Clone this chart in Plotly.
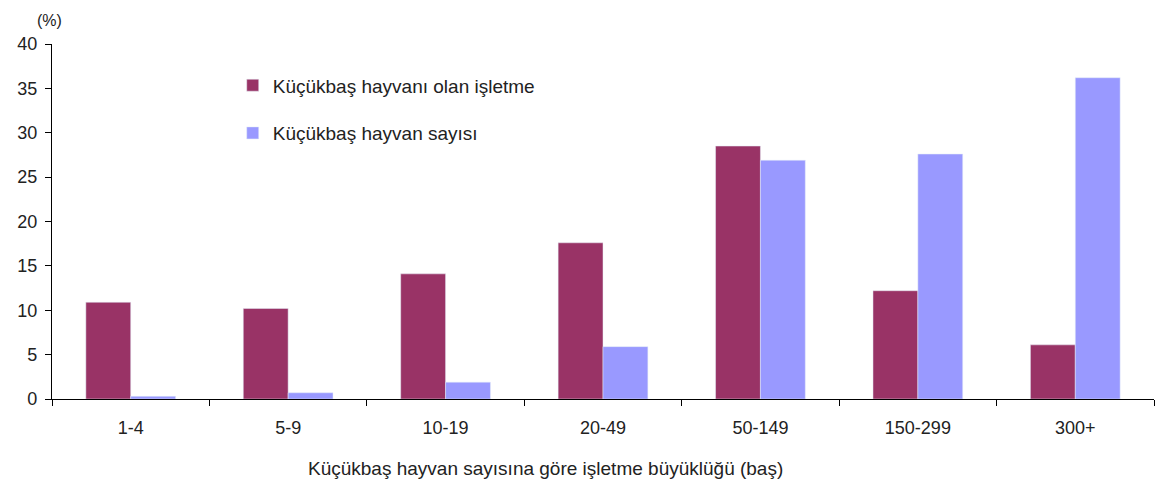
import plotly.graph_objects as go

categories = ["1-4", "5-9", "10-19", "20-49", "50-149", "150-299", "300+"]
isletme = [10.9, 10.2, 14.1, 17.6, 28.5, 12.2, 6.1]
hayvan = [0.3, 0.7, 1.9, 5.9, 26.9, 27.6, 36.2]

MAROON = "#993366"
LILAC = "#9999FF"
FAMILY = "Liberation Sans, Arial, sans-serif"
FONT = dict(family=FAMILY, size=18, color="#222222")

fig = go.Figure()
fig.add_trace(go.Bar(x=categories, y=isletme, name="Küçükbaş hayvanı olan işletme",
                     marker_color=MAROON, legendgroup="a"))
fig.add_trace(go.Bar(x=categories, y=hayvan, name="Küçükbaş hayvan sayısı",
                     marker_color=LILAC, legendgroup="b"))

# page body has an 8px margin, so the figure is a bit smaller than the window
fig.update_layout(
    width=1166, height=485,
    margin=dict(l=44, r=20, t=36, b=94),
    plot_bgcolor="white", paper_bgcolor="white",
    font=FONT,
    barmode="group", bargap=0.43, bargroupgap=0,
    legend=dict(x=0.164, y=0.937, xanchor="left", yanchor="top",
                bgcolor="rgba(0,0,0,0)", tracegroupgap=20,
                font=dict(family=FAMILY, size=19, color="#222222"), itemwidth=30),
    showlegend=True,
)
fig.update_xaxes(
    showline=True, linecolor="black", linewidth=1.2,
    ticks="outside", ticklen=6, tickcolor="black", tickson="boundaries",
    showgrid=False, tickfont=FONT, automargin=False, ticklabelstandoff=12,
)
fig.update_yaxes(
    range=[0, 40], dtick=5, showline=True, linecolor="black", linewidth=1.2,
    ticks="outside", ticklen=6, tickcolor="black", showgrid=False,
    zeroline=False, tickfont=FONT, automargin=False, ticklabelstandoff=4,
)
fig.add_annotation(text="(%)", xref="paper", yref="paper", x=-0.002, y=1.0,
                   yshift=34, xanchor="center", yanchor="top",
                   showarrow=False, font=dict(family=FAMILY, size=16, color="#222222"))
fig.add_annotation(text="Küçükbaş hayvan sayısına göre işletme büyüklüğü (baş)",
                   xref="paper", yref="paper", x=0.448, y=0, yshift=-57,
                   xanchor="center", yanchor="top", showarrow=False,
                   font=dict(family=FAMILY, size=19, color="#222222"))

fig.write_html("out.html")
